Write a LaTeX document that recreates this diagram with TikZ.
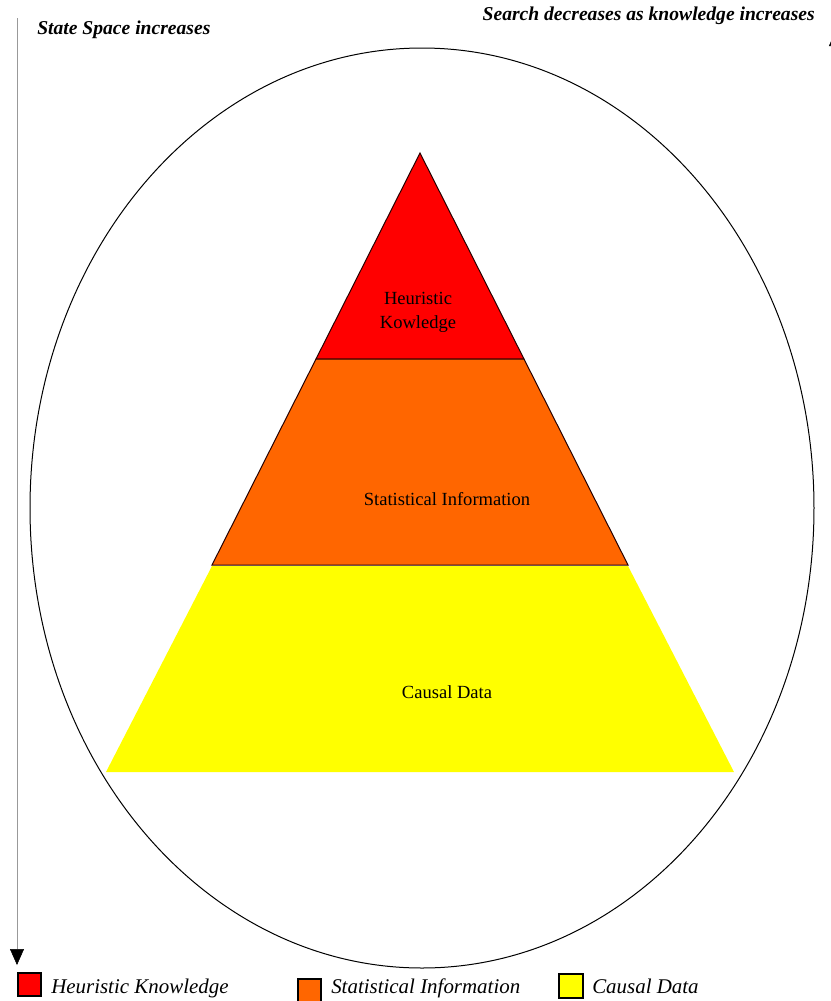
\documentclass[tikz,border=0pt]{standalone}
\usepackage{fontspec}
\setmainfont{Liberation Serif}
\usetikzlibrary{arrows.meta,shapes.geometric}
\definecolor{heurred}{HTML}{FF0000}
\definecolor{statorange}{HTML}{FF6600}
\definecolor{causalyellow}{HTML}{FFFF00}
\begin{document}
\begin{tikzpicture}[x=0.75pt,y=-0.75pt,
    layer/.style={draw=black!85!red,line width=0.75pt},
    lbl/.style={font=\fontsize{13.9}{18}\selectfont,align=center,inner sep=0},
    head/.style={font=\bfseries\itshape\fontsize{14.7}{16}\selectfont,inner sep=0},
    key/.style={draw,line width=1.4pt,minimum size=17.5pt,inner sep=0},
    keytext/.style={font=\itshape\fontsize{15.7}{18}\selectfont,anchor=base west,inner sep=0}]
        \useasboundingbox (0,0) rectangle (831,1001);
        \node[draw,line width=0.75pt,ellipse,minimum width=588pt,minimum height=690pt,inner sep=0] (space) at (422,508) {};
        \fill[heurred,layer] (420,153) -- (524,359) -- (316,359) -- cycle;
        \fill[statorange,layer] (316,359) -- (524,359) -- (628,565) -- (212,565) -- cycle;
        \fill[causalyellow] (212,566) -- (628,566) -- (734,772) -- (106,772) -- cycle;
        \node[lbl] (heur) at (418,312) {Heuristic\\Kowledge};
        \node[lbl] (stat) at (447,499) {Statistical Information};
        \node[lbl] (causal) at (447,692) {Causal Data};
        \coordinate (down0) at (17,18);
        \coordinate (down1) at (17,965);
        \coordinate (up0) at (836,965);
        \coordinate (up1) at (836,30);
        \draw[black!40,-{Triangle[black,width=10.5pt,length=12pt]}] (down0) -- (down1);
        \draw[black!40,-{Triangle[black,width=10.5pt,length=12pt]}] (up0) -- (up1);
        \node[head,anchor=west] (grow) at (37,30) {State Space increases};
        \node[head,anchor=east] (shrink) at (815,16) {Search decreases as knowledge increases};
        \node[key,fill=heurred] (k1) at (29.5,984.5) {};
        \node[key,fill=statorange] (k2) at (309.5,990.5) {};
        \node[key,fill=causalyellow] (k3) at (571,986) {};
        \node[keytext] (t1) at (51,993) {Heuristic Knowledge};
        \node[keytext] (t2) at (331,993) {Statistical Information};
        \node[keytext] (t3) at (592,993) {Causal Data};
      \end{tikzpicture}
\end{document}
